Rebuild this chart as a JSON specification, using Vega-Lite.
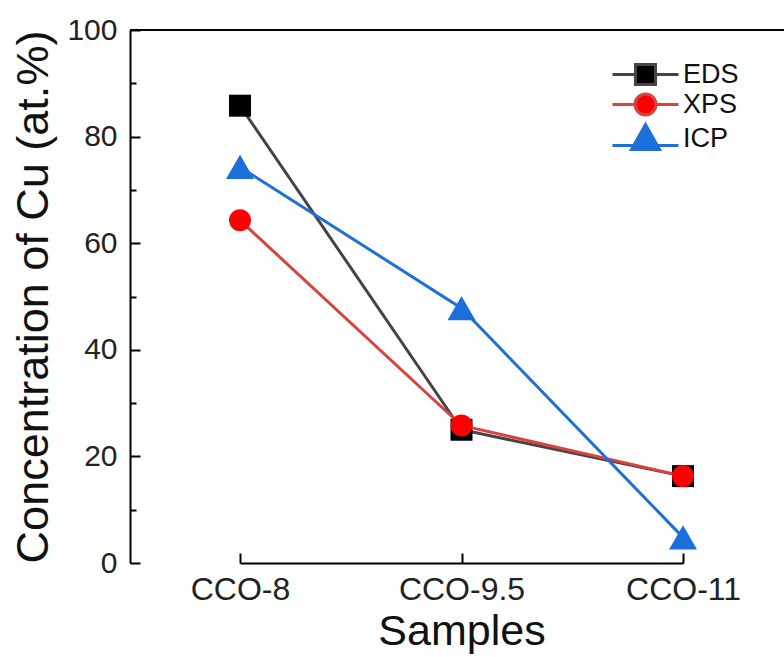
{
  "$schema": "https://vega.github.io/schema/vega-lite/v6.json",
  "width": 654,
  "height": 533,
  "autosize": {"type": "none"},
  "padding": {"left": 130, "top": 30, "right": 0, "bottom": 94},
  "background": "white",
  "config": {
    "view": {"stroke": null},
    "font": "Liberation Sans",
    "axis": {"grid": false, "domainColor": "black", "domainWidth": 2, "tickColor": "black", "tickWidth": 2, "labelFont": "Liberation Sans", "titleFont": "Liberation Sans", "labelColor": "#222", "titleColor": "#111", "titleFontWeight": "normal"},
    "legend": {"orient": "none", "legendX": 502, "legendY": 31, "title": null, "labelFontSize": 27, "labelFont": "Liberation Sans", "labelColor": "#111", "symbolOpacity": 1, "symbolStrokeWidth": 3, "symbolSize": 100, "labelOffset": 24, "rowPadding": -3}
  },
  "data": {"values": [
    {"sample": "CCO-8", "series": "EDS", "value": 85.8},
    {"sample": "CCO-9.5", "series": "EDS", "value": 25.0},
    {"sample": "CCO-11", "series": "EDS", "value": 16.3},
    {"sample": "CCO-8", "series": "XPS", "value": 64.3},
    {"sample": "CCO-9.5", "series": "XPS", "value": 25.8},
    {"sample": "CCO-11", "series": "XPS", "value": 16.3},
    {"sample": "CCO-8", "series": "ICP", "value": 74.3},
    {"sample": "CCO-9.5", "series": "ICP", "value": 47.8},
    {"sample": "CCO-11", "series": "ICP", "value": 4.8}
  ]},
  "encoding": {
    "x": {"field": "sample", "type": "ordinal", "sort": ["CCO-8", "CCO-9.5", "CCO-11"],
      "scale": {"type": "point", "range": [110, 553], "padding": 0},
      "axis": {"title": "Samples", "labelAngle": 0, "labelFontSize": 32, "titleFontSize": 43, "tickSize": -10, "labelPadding": 21, "titlePadding": 5}},
    "y": {"field": "value", "type": "quantitative",
      "scale": {"domain": [0, 100], "nice": false},
      "axis": {"title": "Concentration of Cu (at.%)", "values": [0,10,20,30,40,50,60,70,80,90,100],
        "labelExpr": "datum.value % 20 === 0 ? datum.label : ''",
        "tickSize": {"condition": {"test": "datum.value % 20 === 0", "value": -10}, "value": -6},
        "labelFontSize": 30, "titleFontSize": 45, "labelPadding": 23, "titlePadding": 10}}
  },
  "layer": [
    {
      "data": {"values": [{"top": 100}]},
      "mark": {"type": "rule", "color": "black", "strokeWidth": 2},
      "encoding": {"x": null, "y": {"field": "top", "type": "quantitative"}}
    },
    {
      "transform": [{"filter": "datum.series === 'EDS'"}],
      "mark": {"type": "line", "strokeWidth": 3, "color": "#444444",
        "point": {"filled": true, "shape": "square", "size": 484, "color": "#000000", "opacity": 1}}
    },
    {
      "transform": [{"filter": "datum.series === 'XPS'"}],
      "mark": {"type": "line", "strokeWidth": 3, "color": "#d8423f",
        "point": {"filled": true, "shape": "circle", "size": 484, "color": "#ff0000", "opacity": 1}}
    },
    {
      "transform": [{"filter": "datum.series === 'ICP'"}],
      "mark": {"type": "line", "strokeWidth": 3, "color": "#1f6fd6",
        "point": {"filled": true, "shape": "triangle-up", "size": 784, "color": "#1a6fdb", "opacity": 1}}
    },
    {
      "mark": {"type": "point", "filled": true, "size": 0},
      "encoding": {
        "fill": {"field": "series", "type": "nominal",
          "scale": {"domain": ["EDS", "XPS", "ICP"], "range": ["#000000", "#ff0000", "#1a6fdb"]}},
        "stroke": {"field": "series", "type": "nominal",
          "scale": {"domain": ["EDS", "XPS", "ICP"], "range": ["#444444", "#d8423f", "#1f6fd6"]}},
        "shape": {"field": "series", "type": "nominal",
          "scale": {"domain": ["EDS", "XPS", "ICP"], "range": [
            "M-6.6,0H-2.0M2.0,0H6.6M-2.0,-2.0H2.0V2.0H-2.0Z",
            "M-6.6,0H-2.1M2.1,0H6.6M2.1,0A2.1,2.1,0,1,1,-2.1,0A2.1,2.1,0,1,1,2.1,0Z",
            "M-6.6,1.4H-2.35M2.35,1.4H6.6M0,-2.8L2.8,2.2H-2.8Z"]}}
      }
    }
  ]
}
